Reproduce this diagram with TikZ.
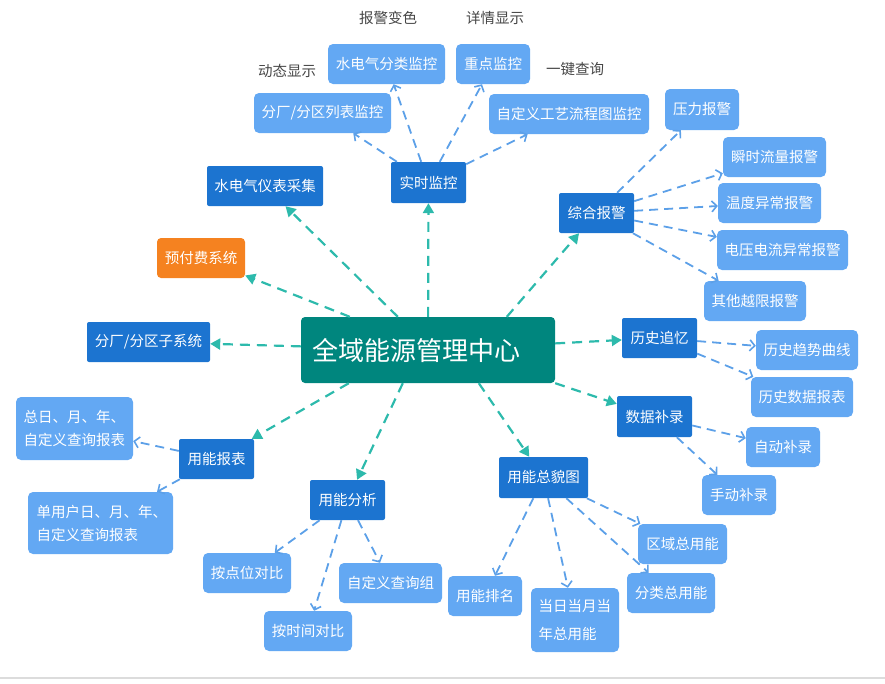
\documentclass[tikz,border=0pt]{standalone}
\usepackage{fontspec}
\setmainfont{Noto Sans CJK SC}
\usetikzlibrary{arrows.meta}
\definecolor{lightb}{RGB}{99,168,243}
\definecolor{darkb}{RGB}{28,116,208}
\definecolor{tealbox}{RGB}{0,134,126}
\definecolor{orng}{RGB}{245,130,32}
\definecolor{tealarr}{RGB}{45,186,172}
\definecolor{bluearr}{RGB}{92,160,232}
\definecolor{labelgray}{RGB}{70,70,70}
\definecolor{rulegray}{RGB}{220,220,220}
\begin{document}
\begin{tikzpicture}[x=1pt,y=-1pt,
  base/.style={rectangle, inner sep=0pt, text=white, font=\fontsize{14.5}{20}\selectfont},
  lb/.style={base, fill=lightb, rounded corners=5pt},
  db/.style={base, fill=darkb, rounded corners=2pt},
  ob/.style={base, fill=orng, rounded corners=4pt},
  lbl/.style={text=labelgray, font=\fontsize{14.5}{17}\selectfont},
  tarr/.style={draw=tealarr, line width=2.2pt, dash pattern=on 10pt off 7pt, -{Triangle[length=10pt,width=11pt]}},
  barr/.style={draw=bluearr, line width=1.8pt, dash pattern=on 9pt off 6pt, -{Straight Barb[length=5pt,width=11pt,line width=1.6pt]}},
]
\useasboundingbox (0,0) rectangle (885,683);
\draw[draw=rulegray, line width=2pt] (0,678) -- (885,678);

% center
\node[base, fill=tealbox, rounded corners=4pt, minimum width=254pt, minimum height=66pt, text width=232pt, align=left, font=\fontsize{26}{30}\selectfont] (ctr) at (428,350) {全域能源管理中心};

% main nodes
\node[db, minimum width=75pt, minimum height=41pt] (sjjk) at (428.5,182.5) {实时监控};
\node[db, minimum width=116pt, minimum height=40pt] (ybcj) at (265,186) {水电气仪表采集};
\node[ob, minimum width=88pt, minimum height=40pt] (yff) at (201,258) {预付费系统};
\node[db, minimum width=123pt, minimum height=40pt] (zxt) at (148.5,342) {分厂/分区子系统};
\node[db, minimum width=75pt, minimum height=40pt] (zhbj) at (596.5,213) {综合报警};
\node[db, minimum width=75pt, minimum height=40pt] (lszy) at (659.5,338) {历史追忆};
\node[db, minimum width=75pt, minimum height=41pt] (sjbl) at (654.5,416.5) {数据补录};
\node[db, minimum width=89pt, minimum height=41pt] (zmt) at (543.5,477.5) {用能总貌图};
\node[db, minimum width=75pt, minimum height=40pt] (nyfx) at (347.5,500) {用能分析};
\node[db, minimum width=75pt, minimum height=40pt] (nybb) at (216.5,459) {用能报表};

% light nodes
\node[lb, minimum width=117pt, minimum height=40pt] (fljk) at (386.5,64) {水电气分类监控};
\node[lb, minimum width=74pt, minimum height=40pt] (zdjk) at (493,64) {重点监控};
\node[lb, minimum width=137pt, minimum height=40pt] (lbjk) at (322.5,113) {分厂/分区列表监控};
\node[lb, minimum width=160pt, minimum height=40pt] (gylc) at (569,114) {自定义工艺流程图监控};
\node[lb, minimum width=74pt, minimum height=41pt] (ylbj) at (702,109.5) {压力报警};
\node[lb, minimum width=103pt, minimum height=40pt] (ssll) at (774.5,157) {瞬时流量报警};
\node[lb, minimum width=103pt, minimum height=40pt] (wdyc) at (769.5,203) {温度异常报警};
\node[lb, minimum width=131pt, minimum height=40pt] (dydl) at (782.5,250) {电压电流异常报警};
\node[lb, minimum width=102pt, minimum height=40pt] (qtyx) at (755,301) {其他越限报警};
\node[lb, minimum width=102pt, minimum height=40pt] (lsqs) at (807,350) {历史趋势曲线};
\node[lb, minimum width=102pt, minimum height=40pt] (lssj) at (802,397) {历史数据报表};
\node[lb, minimum width=74pt, minimum height=40pt] (zdbl) at (783,447) {自动补录};
\node[lb, minimum width=74pt, minimum height=40pt] (sdbl) at (739,495) {手动补录};
\node[lb, minimum width=89pt, minimum height=40pt] (qyzy) at (682.5,544) {区域总用能};
\node[lb, minimum width=88pt, minimum height=40pt] (flzy) at (671,593) {分类总用能};
\node[lb, minimum width=88pt, minimum height=64pt, text width=73pt, align=left, font=\fontsize{14.5}{28}\selectfont] (drdy) at (575,620) {当日当月当\\年总用能};
\node[lb, minimum width=74pt, minimum height=40pt] (nypm) at (485,596) {用能排名};
\node[lb, minimum width=103pt, minimum height=40pt] (zdyz) at (390.5,583) {自定义查询组};
\node[lb, minimum width=88pt, minimum height=40pt] (asj) at (308,631) {按时间对比};
\node[lb, minimum width=88pt, minimum height=40pt] (adw) at (247,573) {按点位对比};
\node[lb, minimum width=145pt, minimum height=62pt, text width=128pt, align=left, font=\fontsize{14.5}{23}\selectfont] (dyh) at (100.5,523) {单用户日、月、年、\\自定义查询报表};
\node[lb, minimum width=117pt, minimum height=63pt, text width=102pt, align=left, font=\fontsize{14.5}{23}\selectfont] (zr) at (74.5,428.5) {总日、月、年、\\自定义查询报表};

% labels
\node[lbl] (bjbs) at (388,18) {报警变色};
\node[lbl] (xqxs) at (495,18) {详情显示};
\node[lbl] (dtxs) at (287,71) {动态显示};
\node[lbl] (yjcx) at (575,69) {一键查询};

% teal connectors from center
\draw[tarr] (ctr) -- (sjjk);
\draw[tarr] ([xshift=97pt]ctr.north west) -- (ybcj);
\draw[tarr] ([xshift=49pt]ctr.north west) -- (yff);
\draw[tarr] (ctr) -- (zxt);
\draw[tarr] ([xshift=206pt]ctr.north west) -- (zhbj);
\draw[tarr] (ctr) -- (lszy);
\draw[tarr] (ctr.south east) -- (sjbl);
\draw[tarr] ([xshift=178pt]ctr.south west) -- (zmt);
\draw[tarr] ([xshift=102pt]ctr.south west) -- (nyfx);
\draw[tarr] ([xshift=48pt]ctr.south west) -- (nybb);

% blue connectors
\draw[barr] (sjjk) -- (lbjk);
\draw[barr] (sjjk) -- (fljk);
\draw[barr] (sjjk) -- (zdjk);
\draw[barr] (sjjk) -- (gylc);
\draw[barr] (zhbj) -- (ylbj);
\draw[barr] (zhbj) -- (ssll);
\draw[barr] (zhbj) -- (wdyc);
\draw[barr] (zhbj) -- (dydl);
\draw[barr] (zhbj) -- (qtyx);
\draw[barr] (lszy) -- (lsqs);
\draw[barr] (lszy) -- (lssj);
\draw[barr] (sjbl) -- (zdbl);
\draw[barr] (sjbl) -- (sdbl);
\draw[barr] (zmt) -- (qyzy);
\draw[barr] (zmt) -- (flzy);
\draw[barr] (zmt) -- (drdy);
\draw[barr] (zmt) -- (nypm);
\draw[barr] (nyfx) -- (adw);
\draw[barr] (nyfx) -- (asj);
\draw[barr] (nyfx) -- (zdyz);
\draw[barr] (nybb) -- (zr);
\draw[barr] (nybb) -- (dyh);
\end{tikzpicture}
\end{document}
